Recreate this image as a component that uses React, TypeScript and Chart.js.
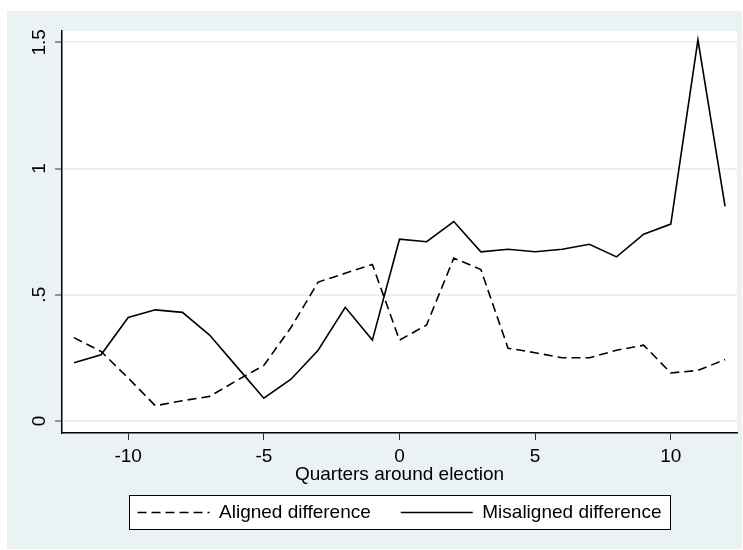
import React, { useEffect, useRef } from 'react';
import { Chart, registerables } from 'chart.js';

Chart.register(...registerables);

const quarters = [-12, -11, -10, -9, -8, -7, -6, -5, -4, -3, -2, -1, 0, 1, 2, 3, 4, 5, 6, 7, 8, 9, 10, 11, 12];
const alignedDiff = [0.33, 0.275, 0.17, 0.06, 0.08, 0.097, 0.16, 0.22, 0.37, 0.55, 0.585, 0.62, 0.32, 0.38, 0.645, 0.6, 0.288, 0.27, 0.25, 0.25, 0.28, 0.3, 0.19, 0.2, 0.243];
const misalignedDiff = [0.23, 0.262, 0.41, 0.44, 0.43, 0.34, 0.215, 0.09, 0.165, 0.28, 0.45, 0.32, 0.72, 0.71, 0.79, 0.67, 0.68, 0.67, 0.68, 0.7, 0.65, 0.74, 0.78, 1.51, 0.85];
const seriesNames = ['Aligned difference', 'Misaligned difference'];
const xTickValues = [-10, -5, 0, 5, 10];
const xTickLabels = ['-10', '-5', '0', '5', '10'];
const yTickValues = [0, 0.5, 1, 1.5];
const yTickLabels = ['0', '.5', '1', '1.5'];
const xTitle = 'Quarters around election';

const REGION = '#EAF2F3';
const LINE_W = 1.6;

const stataBackground = {
  id: 'stataBackground',
  beforeDraw(chart: any) {
    const { ctx, chartArea: a } = chart;
    ctx.save();
    ctx.fillStyle = '#ffffff';
    ctx.fillRect(0, 0, chart.width, chart.height);
    ctx.fillStyle = REGION;
    ctx.fillRect(7, 11, 735, 538);
    ctx.fillStyle = '#ffffff';
    ctx.fillRect(a.left, a.top, a.right - a.left, a.bottom - a.top);
    const lg = chart.legend;
    const hb = lg && lg.legendHitBoxes;
    if (hb && hb.length) {
      const last = hb[hb.length - 1];
      const left = Math.round(hb[0].left - 9) + 0.5;
      const right = Math.round(last.left + last.width + 9) + 0.5;
      const top = Math.round(hb[0].top - 8) + 0.5;
      const bottom = Math.round(hb[0].top + hb[0].height + 7) + 0.5;
      ctx.fillStyle = '#ffffff';
      ctx.fillRect(left, top, right - left, bottom - top);
      ctx.strokeStyle = '#000000';
      ctx.lineWidth = 1;
      ctx.strokeRect(left, top, right - left, bottom - top);
    }
    ctx.restore();
  },
};

export default function App() {
  const canvasRef = useRef<HTMLCanvasElement | null>(null);

  useEffect(() => {
    const canvas = canvasRef.current;
    if (!canvas) return;
    Chart.defaults.font.family = "'Liberation Sans', Arial, Helvetica, sans-serif";
    Chart.defaults.color = '#000';
    const defaultGen = Chart.defaults.plugins.legend.labels.generateLabels;

    const chart = new Chart(canvas, {
      type: 'line',
      data: {
        datasets: [
          {
            label: seriesNames[0],
            data: quarters.map((q, i) => ({ x: q, y: alignedDiff[i] })),
            borderColor: '#000',
            backgroundColor: '#000',
            borderWidth: LINE_W,
            borderDash: [9, 5],
            pointRadius: 0,
            tension: 0,
            fill: false,
          },
          {
            label: seriesNames[1],
            data: quarters.map((q, i) => ({ x: q, y: misalignedDiff[i] })),
            borderColor: '#000',
            backgroundColor: '#000',
            borderWidth: LINE_W,
            pointRadius: 0,
            tension: 0,
            fill: false,
          },
        ],
      },
      options: {
        animation: false,
        responsive: false,
        maintainAspectRatio: false,
        layout: { padding: { left: 0, top: 31, right: 6, bottom: 18 } },
        plugins: {
          legend: {
            position: 'bottom',
            fullSize: false,
            labels: {
              usePointStyle: true,
              pointStyle: 'line',
              pointStyleWidth: 72,
              boxWidth: 72,
              padding: 30,
              color: '#000',
              font: { size: 19 },
              generateLabels: (c: any) => {
                const items = defaultGen(c);
                items.forEach((it: any) => {
                  const ds: any = c.data.datasets[it.datasetIndex];
                  it.lineDash = ds.borderDash || [];
                  it.lineWidth = LINE_W;
                  it.strokeStyle = '#000';
                  it.fillStyle = '#000';
                });
                return items;
              },
            },
          },
          tooltip: { enabled: false },
        },
        scales: {
          x: {
            type: 'linear',
            bounds: 'data',
            min: -12.44,
            max: 12.44,
            afterBuildTicks: (s: any) => {
              s.ticks = xTickValues.map((v) => ({ value: v }));
            },
            afterFit: (s: any) => {
              s.height = 40;
            },
            ticks: {
              callback: (_v: any, i: number) => xTickLabels[i],
              color: '#000',
              font: { size: 19 },
              padding: 5,
              minRotation: 0,
              maxRotation: 0,
              autoSkip: false,
            },
            grid: {
              drawOnChartArea: false,
              drawTicks: true,
              tickLength: 7,
              tickColor: '#333',
              tickWidth: 1,
            },
            border: { display: true, color: '#000', width: 1.5 },
            title: {
              display: true,
              text: xTitle,
              color: '#000',
              font: { size: 19 },
              padding: { top: 0, bottom: -13 },
            },
          },
          y: {
            type: 'linear',
            bounds: 'data',
            min: -0.048,
            max: 1.545,
            afterBuildTicks: (s: any) => {
              s.ticks = yTickValues.map((v) => ({ value: v }));
            },
            afterFit: (s: any) => {
              s.width = 62;
            },
            ticks: {
              callback: (_v: any, i: number) => yTickLabels[i],
              color: '#000',
              font: { size: 19 },
              padding: 2,
              minRotation: 90,
              maxRotation: 90,
              crossAlign: 'center',
              autoSkip: false,
            },
            grid: {
              color: REGION,
              lineWidth: 2,
              tickLength: 7,
              tickColor: '#333',
              tickWidth: 1,
            },
            border: { display: true, color: '#000', width: 1.5 },
          },
        },
      } as any,
      plugins: [stataBackground],
    });

    return () => {
      chart.destroy();
    };
  }, []);

  return (
    <div style={{ position: 'absolute', left: 0, top: 0, width: 743, height: 550, background: '#fff' }}>
      <canvas ref={canvasRef} width={743} height={550} style={{ display: 'block', width: 743, height: 550 }} />
    </div>
  );
}
